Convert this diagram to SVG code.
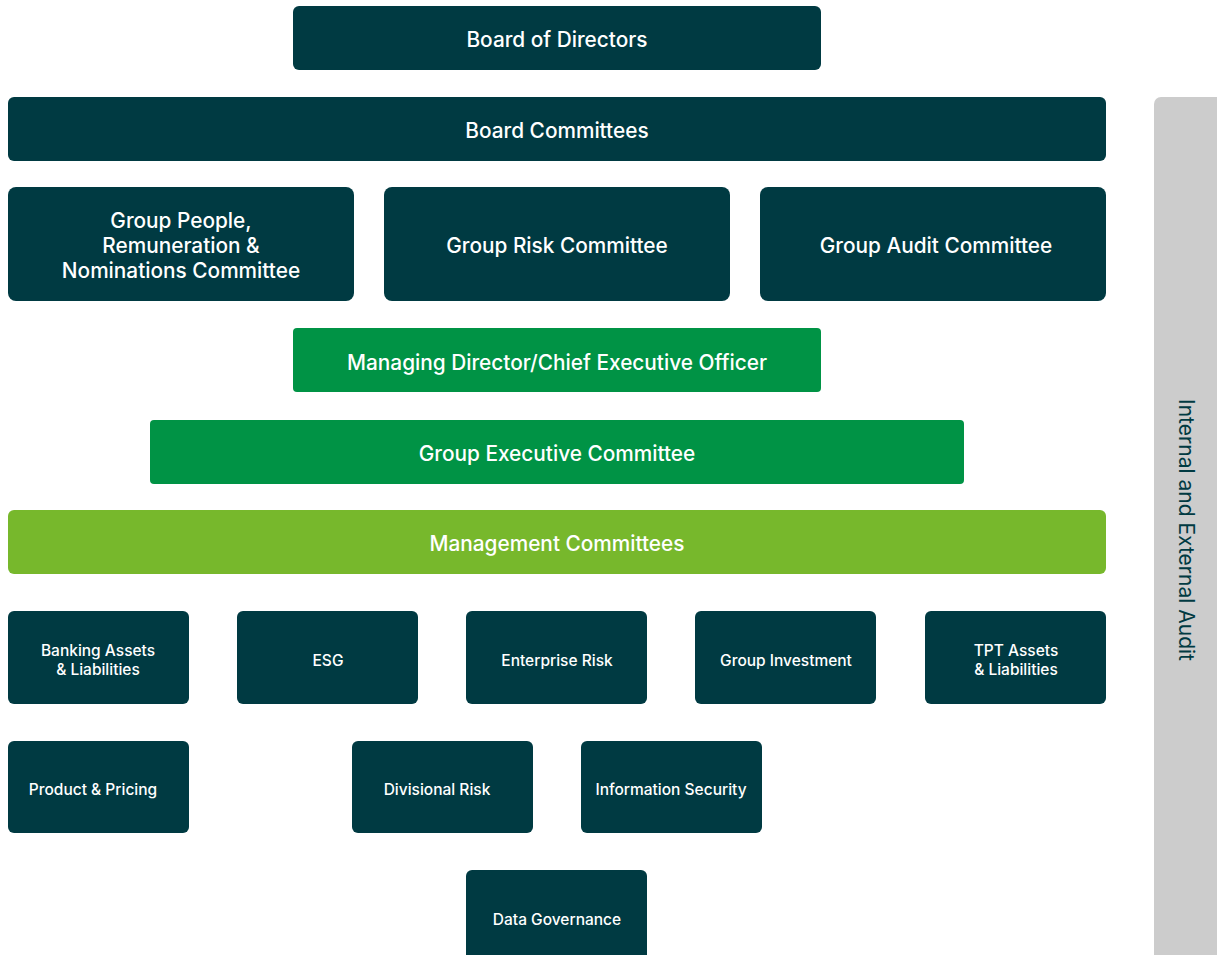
<svg xmlns="http://www.w3.org/2000/svg" width="1217" height="955" viewBox="0 0 1217 955">
<style>
.d{fill:#003A42}
.g{fill:#009345}
.l{fill:#77B82C}
.a{fill:#CCCCCC}
text{font-family:Inter,"Noto Sans","Liberation Sans",sans-serif;fill:#ffffff;text-anchor:middle;dominant-baseline:central}
.t{font-size:20.8px;font-weight:500}
.s{font-size:15.5px;font-weight:500}
.v{font-size:21px;fill:#003A42;font-weight:400}
</style>
<rect width="1217" height="955" fill="#ffffff"/>
<g id="audit"><rect class="a" x="1154" y="97" width="70" height="880" rx="7"/><text class="v" transform="translate(1186,530) rotate(90)">Internal and External Audit</text></g>
<g id="board"><rect class="d" x="293" y="6" width="528" height="64" rx="6"/><text class="t" x="557" y="39">Board of Directors</text></g>
<g id="committees"><rect class="d" x="8" y="97" width="1098" height="64" rx="6"/><text class="t" x="557" y="130">Board Committees</text></g>
<g id="people"><rect class="d" x="8" y="187" width="346" height="114" rx="8"/><text class="t" x="181" y="220">Group People,</text><text class="t" x="181" y="245">Remuneration &amp;</text><text class="t" x="181" y="270">Nominations Committee</text></g>
<g id="risk"><rect class="d" x="384" y="187" width="346" height="114" rx="8"/><text class="t" x="557" y="245">Group Risk Committee</text></g>
<g id="auditc"><rect class="d" x="760" y="187" width="346" height="114" rx="8"/><text class="t" x="936" y="245">Group Audit Committee</text></g>
<g id="ceo"><rect class="g" x="293" y="328" width="528" height="64" rx="4"/><text class="t" x="557" y="362">Managing Director/Chief Executive Officer</text></g>
<g id="exec"><rect class="g" x="150" y="420" width="814" height="64" rx="4"/><text class="t" x="557" y="453">Group Executive Committee</text></g>
<g id="mgmt"><rect class="l" x="8" y="510" width="1098" height="64" rx="6"/><text class="t" x="557" y="543">Management Committees</text></g>
<g id="bal"><rect class="d" x="8" y="611" width="181" height="93" rx="6"/><text class="s" x="98" y="650">Banking Assets</text><text class="s" x="98" y="669">&amp; Liabilities</text></g>
<g id="esg"><rect class="d" x="237" y="611" width="181" height="93" rx="6"/><text class="s" x="328" y="660">ESG</text></g>
<g id="er"><rect class="d" x="466" y="611" width="181" height="93" rx="6"/><text class="s" x="557" y="660">Enterprise Risk</text></g>
<g id="gi"><rect class="d" x="695" y="611" width="181" height="93" rx="6"/><text class="s" x="786" y="660">Group Investment</text></g>
<g id="tpt"><rect class="d" x="925" y="611" width="181" height="93" rx="6"/><text class="s" x="1016" y="650">TPT Assets</text><text class="s" x="1016" y="669">&amp; Liabilities</text></g>
<g id="pp"><rect class="d" x="8" y="741" width="181" height="92" rx="6"/><text class="s" x="93" y="789">Product &amp; Pricing</text></g>
<g id="dr"><rect class="d" x="352" y="741" width="181" height="92" rx="6"/><text class="s" x="437" y="789">Divisional Risk</text></g>
<g id="is"><rect class="d" x="581" y="741" width="181" height="92" rx="6"/><text class="s" x="671" y="789">Information Security</text></g>
<g id="dg"><rect class="d" x="466" y="870" width="181" height="100" rx="6"/><text class="s" x="557" y="919">Data Governance</text></g>
<g id="connectors"></g>
</svg>
